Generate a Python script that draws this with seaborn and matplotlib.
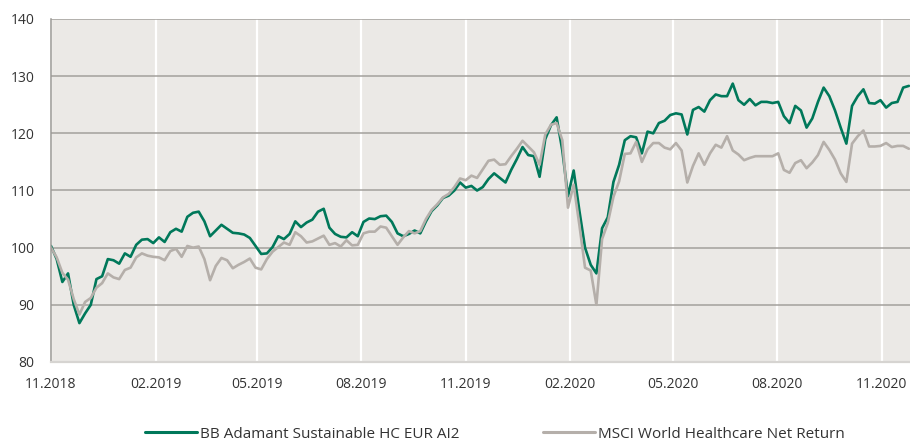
#!/usr/bin/env python3
"""
Performance chart: BB Adamant Sustainable HC vs MSCI World Healthcare
(indexed to 100, Nov 2018 - Nov 2020)
"""
import pandas as pd
import numpy as np
import matplotlib.pyplot as plt
import matplotlib.dates as mdates
from matplotlib.lines import Line2D
import seaborn as sns

# Series labels
fund_name = 'BB Adamant Sustainable HC EUR AI2'
index_name = 'MSCI World Healthcare Net Return'

# Observation dates: one point every 5 days from 01.11.2018
dates = pd.date_range('2018-11-01', periods=152, freq='5D')

# Indexed values
fund_values = [
    100.3, 98.0, 94.0, 95.5, 90.0, 86.8, 88.5, 90.0, 94.5, 95.0,
    98.0, 97.8, 97.2, 99.0, 98.4, 100.5, 101.4, 101.5, 100.8, 101.8,
    101.0, 102.7, 103.3, 102.8, 105.4, 106.1, 106.3, 104.6, 102.0, 103.0,
    104.0, 103.3, 102.6, 102.5, 102.3, 101.7, 100.3, 98.9, 99.0, 100.1,
    102.0, 101.5, 102.4, 104.6, 103.6, 104.4, 104.9, 106.3, 106.8, 103.5,
    102.4, 101.9, 101.8, 102.7, 102.0, 104.5, 105.1, 105.0, 105.5, 105.6,
    104.5, 102.5, 102.0, 102.4, 103.0, 102.5, 104.6, 106.4, 107.4, 108.7,
    109.1, 110.0, 111.4, 110.5, 110.8, 110.0, 110.6, 112.0, 113.0, 112.2,
    111.4, 113.6, 115.5, 117.6, 116.2, 116.0, 112.4, 119.0, 121.4, 122.8,
    117.0, 109.0, 113.5, 106.5, 100.0, 97.0, 95.5, 103.4, 105.3, 111.5,
    114.5, 118.8, 119.5, 119.3, 116.5, 120.3, 120.0, 121.8, 122.2, 123.2,
    123.5, 123.3, 119.8, 124.1, 124.6, 123.8, 125.8, 126.8, 126.5, 126.5,
    128.7, 125.8, 125.0, 126.0, 124.9, 125.5, 125.5, 125.3, 125.5, 123.0,
    121.8, 124.8, 124.0, 121.0, 122.6, 125.5, 128.0, 126.5, 124.0, 121.0,
    118.2, 124.8, 126.5, 127.7, 125.3, 125.2, 125.8, 124.5, 125.3, 125.5,
    128.0, 128.3,
]

index_values = [
    100.0, 98.3, 95.6, 94.4, 91.0, 88.3, 90.5, 91.2, 93.0, 93.8,
    95.5, 94.8, 94.5, 96.1, 96.5, 98.3, 99.0, 98.6, 98.4, 98.3,
    97.8, 99.4, 99.8, 98.4, 100.3, 100.0, 100.2, 98.0, 94.3, 96.8,
    98.2, 97.8, 96.4, 97.0, 97.5, 98.1, 96.5, 96.2, 98.0, 99.3,
    100.1, 100.9, 100.5, 102.7, 102.0, 100.9, 101.1, 101.6, 102.1, 100.5,
    100.8, 100.2, 101.3, 100.4, 100.5, 102.5, 102.8, 102.8, 103.7, 103.5,
    102.0, 100.5, 101.8, 102.9, 102.5, 102.9, 105.0, 106.6, 107.6, 108.8,
    109.4, 110.6, 112.1, 111.8, 112.6, 112.2, 113.7, 115.2, 115.4, 114.5,
    114.6, 116.0, 117.3, 118.7, 117.7, 116.7, 114.5, 119.8, 121.5, 121.8,
    118.8, 107.0, 111.0, 104.0, 96.5, 96.0, 90.0, 101.5, 104.3, 108.9,
    111.6, 116.4, 116.5, 118.5, 115.0, 117.2, 118.3, 118.3, 117.5, 117.2,
    118.3, 117.0, 111.4, 114.3, 116.5, 114.5, 116.5, 118.0, 117.5, 119.5,
    117.0, 116.3, 115.3, 115.7, 116.0, 116.0, 116.0, 116.0, 116.5, 113.6,
    113.1, 114.8, 115.3, 113.9, 114.9, 116.2, 118.5, 117.1, 115.4, 113.0,
    111.5, 118.2, 119.5, 120.5, 117.7, 117.7, 117.8, 118.3, 117.6, 117.8,
    117.8, 117.3,
]

# x-axis ticks (quarterly)
tick_dates = pd.to_datetime(['2018-11-01', '2019-02-01', '2019-05-01', '2019-08-01',
                             '2019-11-01', '2020-02-01', '2020-05-01', '2020-08-01',
                             '2020-11-01'])
y_ticks = [80, 90, 100, 110, 120, 130, 140]

green = '#00785A'
grey = '#B5AFAA'

df = pd.DataFrame({
    'date': np.concatenate([dates, dates]),
    'value': fund_values + index_values,
    'series': [fund_name] * len(dates) + [index_name] * len(dates),
})

sns.set_style('white')
plt.rcParams['font.family'] = ['Open Sans', 'DejaVu Sans']

fig = plt.figure(figsize=(9.1, 4.42), dpi=100)
ax = fig.add_axes([51 / 910, 1 - 362 / 442, 859 / 910, 343 / 442])
ax.set_facecolor('#EBE9E6')

sns.lineplot(data=df, x='date', y='value', hue='series',
             hue_order=[fund_name, index_name],
             palette={fund_name: green, index_name: grey},
             linewidth=1.9, legend=False, ax=ax)

ax.set_xlim(pd.Timestamp('2018-11-01'), pd.Timestamp('2020-11-26'))
ax.set_ylim(80, 140)
ax.set_yticks(y_ticks)
ax.set_xticks(tick_dates)
ax.xaxis.set_major_formatter(mdates.DateFormatter('%m.%Y'))
ax.set_xlabel('')
ax.set_ylabel('')

# Grid: grey horizontals, white verticals
ax.set_axisbelow(True)
ax.yaxis.grid(True, color='#A3A09C', linewidth=1.1)
ax.xaxis.grid(True, color='white', linewidth=1.6)

for side in ['top', 'right']:
    ax.spines[side].set_visible(False)
ax.spines['left'].set_color('#9A9895')
ax.spines['left'].set_linewidth(1.1)
ax.spines['bottom'].set_color('#D6D4D1')
ax.spines['bottom'].set_linewidth(1.6)

ax.tick_params(axis='y', length=4, width=1.1, color='#9A9895', pad=8,
               labelsize=10, labelcolor='#333333')
ax.tick_params(axis='x', length=4, width=1.4, color='#D6D4D1', pad=7,
               labelsize=10, labelcolor='#333333')

handles = [Line2D([], [], color=green, linewidth=2.2),
           Line2D([], [], color=grey, linewidth=2.2)]
fig.legend(handles, [fund_name, index_name], loc='center',
           bbox_to_anchor=(495 / 910, 1 - 434 / 442), ncol=2, frameon=False,
           fontsize=11, handlelength=3.4, handletextpad=0.2,
           columnspacing=5.5, labelcolor='#333333')

plt.savefig('out.png', dpi=100)
plt.close()
